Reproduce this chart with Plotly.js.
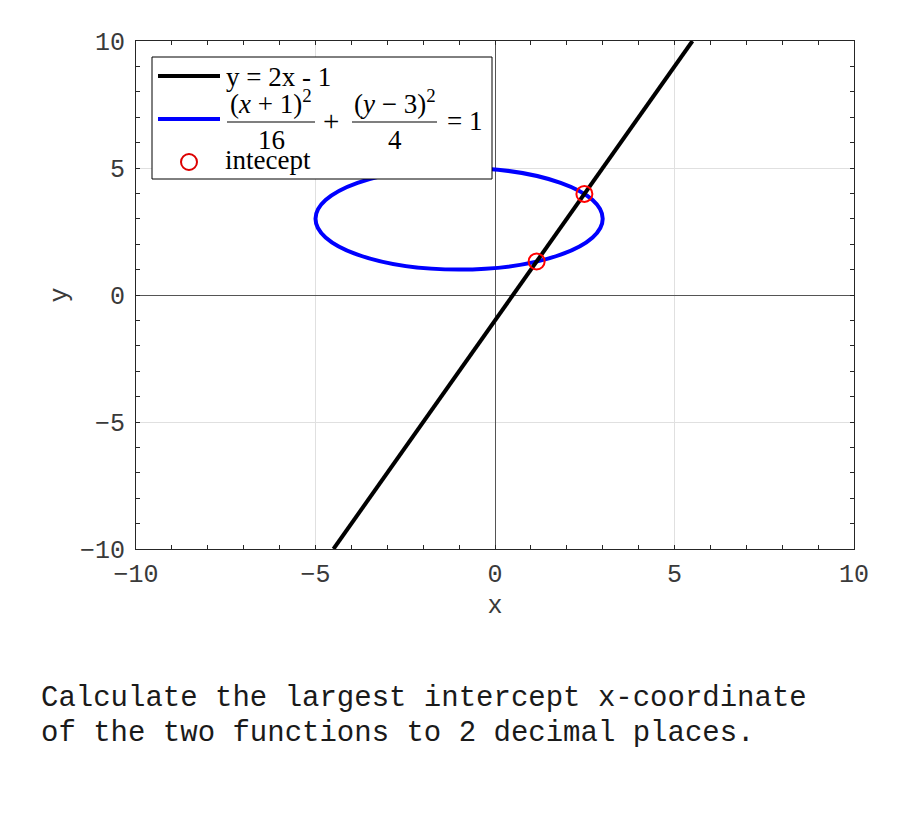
<!DOCTYPE html>
<html>
<head>
<meta charset="utf-8">
<script src="https://cdn.plot.ly/plotly-3.0.1.min.js"></script>
<style>html,body{margin:0;padding:0;background:#fff;}#chart{width:900px;height:825px;}</style>
</head>
<body>
<div id="chart"></div>
<script>
// ---- data ----
const lineX = [-4.5, 5.5];
const lineY = [-10, 10];
const ellipseCenter = [-1, 3];
const ellipseSemiAxes = [4, 2];
const interceptX = [1.16, 2.49];
const interceptY = [1.32, 3.98];
const tickVals = [-10, -5, 0, 5, 10];
const lineLabel = 'y = 2x - 1';
const interceptLabel = 'intecept';
const questionLines = ['Calculate the largest intercept x-coordinate', 'of the two functions to 2 decimal places.'];

// ---- layout helpers (pixel -> paper) ----
const W = 900, H = 825, L = 136, R = 854, T = 41, B = 549;
const px = v => (v - L) / (R - L);
const py = v => (B - v) / (B - T);

const mono = 'Liberation Mono, Courier New, monospace';
const serif = 'Liberation Serif, Times New Roman, serif';
const axisColor = '#262626';
const tickTextColor = '#3a3a3a';
const legendSize = 27;

const traces = [
  {x: lineX, y: lineY, mode: 'lines', name: lineLabel, line: {color: '#000', width: 4}, showlegend: false},
  {x: interceptX, y: interceptY, mode: 'markers', name: interceptLabel,
   marker: {symbol: 'circle-open', size: 16, color: 'rgb(255,0,0)', line: {width: 2, color: 'rgb(255,0,0)'}}, showlegend: false}
];

const shapes = [
  {type: 'circle', xref: 'x', yref: 'y', layer: 'between',
   x0: ellipseCenter[0] - ellipseSemiAxes[0], x1: ellipseCenter[0] + ellipseSemiAxes[0],
   y0: ellipseCenter[1] - ellipseSemiAxes[1], y1: ellipseCenter[1] + ellipseSemiAxes[1],
   line: {color: 'rgb(0,0,255)', width: 4}},
  // legend box
  {type: 'rect', xref: 'paper', yref: 'paper', layer: 'above',
   x0: px(152), x1: px(492), y0: py(179), y1: py(57),
   fillcolor: '#fff', line: {color: '#000', width: 1}},
  {type: 'line', xref: 'paper', yref: 'paper', layer: 'above',
   x0: px(158), x1: px(220), y0: py(76), y1: py(76), line: {color: '#000', width: 4}},
  {type: 'line', xref: 'paper', yref: 'paper', layer: 'above',
   x0: px(158), x1: px(220), y0: py(119), y1: py(119), line: {color: 'rgb(0,0,255)', width: 4}},
  {type: 'circle', xref: 'paper', yref: 'paper', layer: 'above',
   x0: px(181), x1: px(197), y0: py(170), y1: py(154), line: {color: 'rgb(220,0,0)', width: 2}},
  // fraction bars
  {type: 'line', xref: 'paper', yref: 'paper', layer: 'above',
   x0: px(227), x1: px(315), y0: py(122), y1: py(122), line: {color: '#000', width: 1.2}},
  {type: 'line', xref: 'paper', yref: 'paper', layer: 'above',
   x0: px(352), x1: px(437), y0: py(122), y1: py(122), line: {color: '#000', width: 1.2}}
];

function ann(text, x, y, size, family, xanchor, yanchor, color) {
  return {text: text, xref: 'paper', yref: 'paper', x: px(x), y: py(y), xanchor: xanchor || 'center', yanchor: yanchor || 'middle',
          showarrow: false, borderpad: 0, font: {family: family, size: size, color: color || '#000'}, align: 'left'};
}

const annotations = [
  ann(lineLabel, 225, 77, legendSize, serif, 'left'),
  ann('(<i>x</i> + 1)<sup>2</sup>', 271, 120, legendSize, serif, 'center', 'bottom'),
  ann('16', 271, 124, legendSize, serif, 'center', 'top'),
  ann('+', 331, 121, legendSize + 2, serif),
  ann('(<i>y</i> − 3)<sup>2</sup>', 394.5, 120, legendSize, serif, 'center', 'bottom'),
  ann('4', 394.5, 124, legendSize, serif, 'center', 'top'),
  ann('= 1', 446, 121, legendSize, serif, 'left'),
  ann(interceptLabel, 224, 160, legendSize, serif, 'left'),
  ann(questionLines[0], 40, 698, 29, mono, 'left', 'middle', '#1a1a1a'),
  ann(questionLines[1], 40, 733, 29, mono, 'left', 'middle', '#1a1a1a')
];

const axisCommon = {
  range: [-10, 10], tickvals: tickVals, ticks: 'inside', ticklen: 4, tickcolor: axisColor,
  showline: true, linecolor: axisColor, linewidth: 1, mirror: 'ticks',
  showgrid: true, gridcolor: '#e0e0e0', gridwidth: 1,
  zeroline: true, zerolinecolor: '#555', zerolinewidth: 1,
  minor: {dtick: 1, ticks: 'inside', ticklen: 4, tickcolor: axisColor, showgrid: false},
  tickfont: {family: mono, size: 25, color: tickTextColor},
  fixedrange: true, automargin: false
};

const layout = {
  width: W, height: H,
  margin: {l: L, r: W - R, t: T, b: H - B, pad: 0},
  paper_bgcolor: '#fff', plot_bgcolor: '#fff',
  showlegend: false,
  xaxis: Object.assign({}, axisCommon, {ticklabelstandoff: 2,
    title: {text: 'x', font: {family: mono, size: 25, color: tickTextColor}, standoff: 6}}),
  yaxis: Object.assign({}, axisCommon, {ticklabelstandoff: 5,
    title: {text: 'y', font: {family: mono, size: 25, color: tickTextColor}, standoff: 5}}),
  shapes: shapes,
  annotations: annotations
};

Plotly.newPlot('chart', traces, layout, {staticPlot: true, displayModeBar: false});
</script>
</body>
</html>
